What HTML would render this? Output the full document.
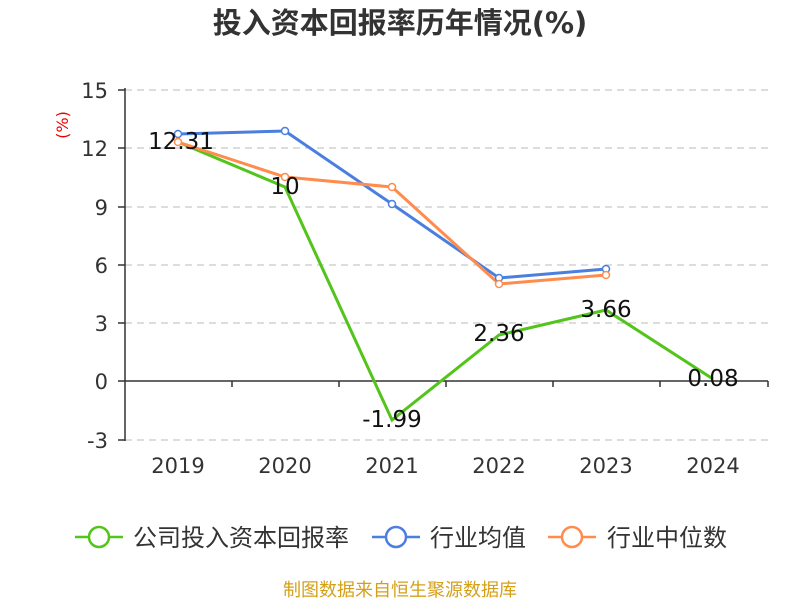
<!DOCTYPE html>
<html><head><meta charset="utf-8"><style>
body{margin:0;background:#fff;}
svg text{font-family:"DejaVu Sans","Noto Sans CJK SC",sans-serif;}
</style></head><body>
<svg width="800" height="600" xmlns="http://www.w3.org/2000/svg">
<text x="400" y="33" text-anchor="middle" font-size="29" font-weight="bold" fill="#333" font-family="Liberation Sans, Noto Sans CJK SC, sans-serif">投入资本回报率历年情况(%)</text>
<text transform="translate(68,125) rotate(-90)" text-anchor="middle" font-size="16" fill="#e00">(%)</text>
<g stroke="#bbb" stroke-dasharray="7,5" stroke-width="1">
<line x1="125" y1="90" x2="768" y2="90"/><line x1="125" y1="148" x2="768" y2="148"/>
<line x1="125" y1="207" x2="768" y2="207"/><line x1="125" y1="265" x2="768" y2="265"/>
<line x1="125" y1="323" x2="768" y2="323"/><line x1="125" y1="440" x2="768" y2="440"/>
</g>
<g stroke="#333" stroke-width="1.5">
<line x1="125" y1="88" x2="125" y2="441"/>
<line x1="118" y1="90" x2="125" y2="90"/><line x1="118" y1="148" x2="125" y2="148"/><line x1="118" y1="207" x2="125" y2="207"/><line x1="118" y1="265" x2="125" y2="265"/><line x1="118" y1="323" x2="125" y2="323"/><line x1="118" y1="381" x2="125" y2="381"/><line x1="118" y1="440" x2="125" y2="440"/>
<line x1="125" y1="381" x2="768" y2="381"/>
<line x1="232" y1="381" x2="232" y2="387"/><line x1="339" y1="381" x2="339" y2="387"/><line x1="446" y1="381" x2="446" y2="387"/><line x1="553" y1="381" x2="553" y2="387"/><line x1="660" y1="381" x2="660" y2="387"/><line x1="768" y1="381" x2="768" y2="387"/>
</g>
<g font-size="21" fill="#333" text-anchor="end">
<text x="108" y="98">15</text><text x="108" y="156">12</text><text x="108" y="215">9</text><text x="108" y="273">6</text><text x="108" y="331">3</text><text x="108" y="389">0</text><text x="108" y="448">-3</text>
</g>
<g font-size="21" fill="#333" text-anchor="middle">
<text x="178" y="473">2019</text><text x="285" y="473">2020</text><text x="392" y="473">2021</text><text x="499" y="473">2022</text><text x="606" y="473">2023</text><text x="713" y="473">2024</text>
</g>
<polyline fill="none" stroke="#52c41a" stroke-width="3" points="178,142 285,187 392,420 499,335 606,310 713,379"/>
<polyline fill="none" stroke="#4a7fe0" stroke-width="3" points="178,134 285,131 392,204 499,278 606,269"/>
<polyline fill="none" stroke="#ff8c4d" stroke-width="3" points="178,142 285,177 392,187 499,284 606,275"/>
<g fill="#fff" stroke="#4a7fe0" stroke-width="1.5">
<circle cx="178" cy="134" r="3.5"/><circle cx="285" cy="131" r="3.5"/><circle cx="392" cy="204" r="3.5"/><circle cx="499" cy="278" r="3.5"/><circle cx="606" cy="269" r="3.5"/></g>
<g fill="#fff" stroke="#ff8c4d" stroke-width="1.5">
<circle cx="178" cy="142" r="3.5"/><circle cx="285" cy="177" r="3.5"/><circle cx="392" cy="187" r="3.5"/><circle cx="499" cy="284" r="3.5"/><circle cx="606" cy="275" r="3.5"/></g>
<g font-size="23" fill="#111" text-anchor="middle">
<text x="181" y="149">12.31</text><text x="285" y="194">10</text><text x="392" y="427">-1.99</text><text x="499" y="341">2.36</text><text x="606" y="317">3.66</text><text x="713" y="386">0.08</text>
</g>
<g stroke-width="2.5" fill="#fff">
<line x1="75" y1="537" x2="123" y2="537" stroke="#52c41a"/><circle cx="99" cy="537" r="10" stroke="#52c41a"/>
<line x1="372" y1="537" x2="420" y2="537" stroke="#4a7fe0"/><circle cx="396" cy="537" r="10" stroke="#4a7fe0"/>
<line x1="548" y1="537" x2="596" y2="537" stroke="#ff8c4d"/><circle cx="572" cy="537" r="10" stroke="#ff8c4d"/>
</g>
<g font-size="24" fill="#333">
<text x="133" y="546">公司投入资本回报率</text><text x="430" y="546">行业均值</text><text x="607" y="546">行业中位数</text>
</g>
<text x="400" y="596" text-anchor="middle" font-size="18" fill="#d4a017">制图数据来自恒生聚源数据库</text>
</svg>
</body></html>
